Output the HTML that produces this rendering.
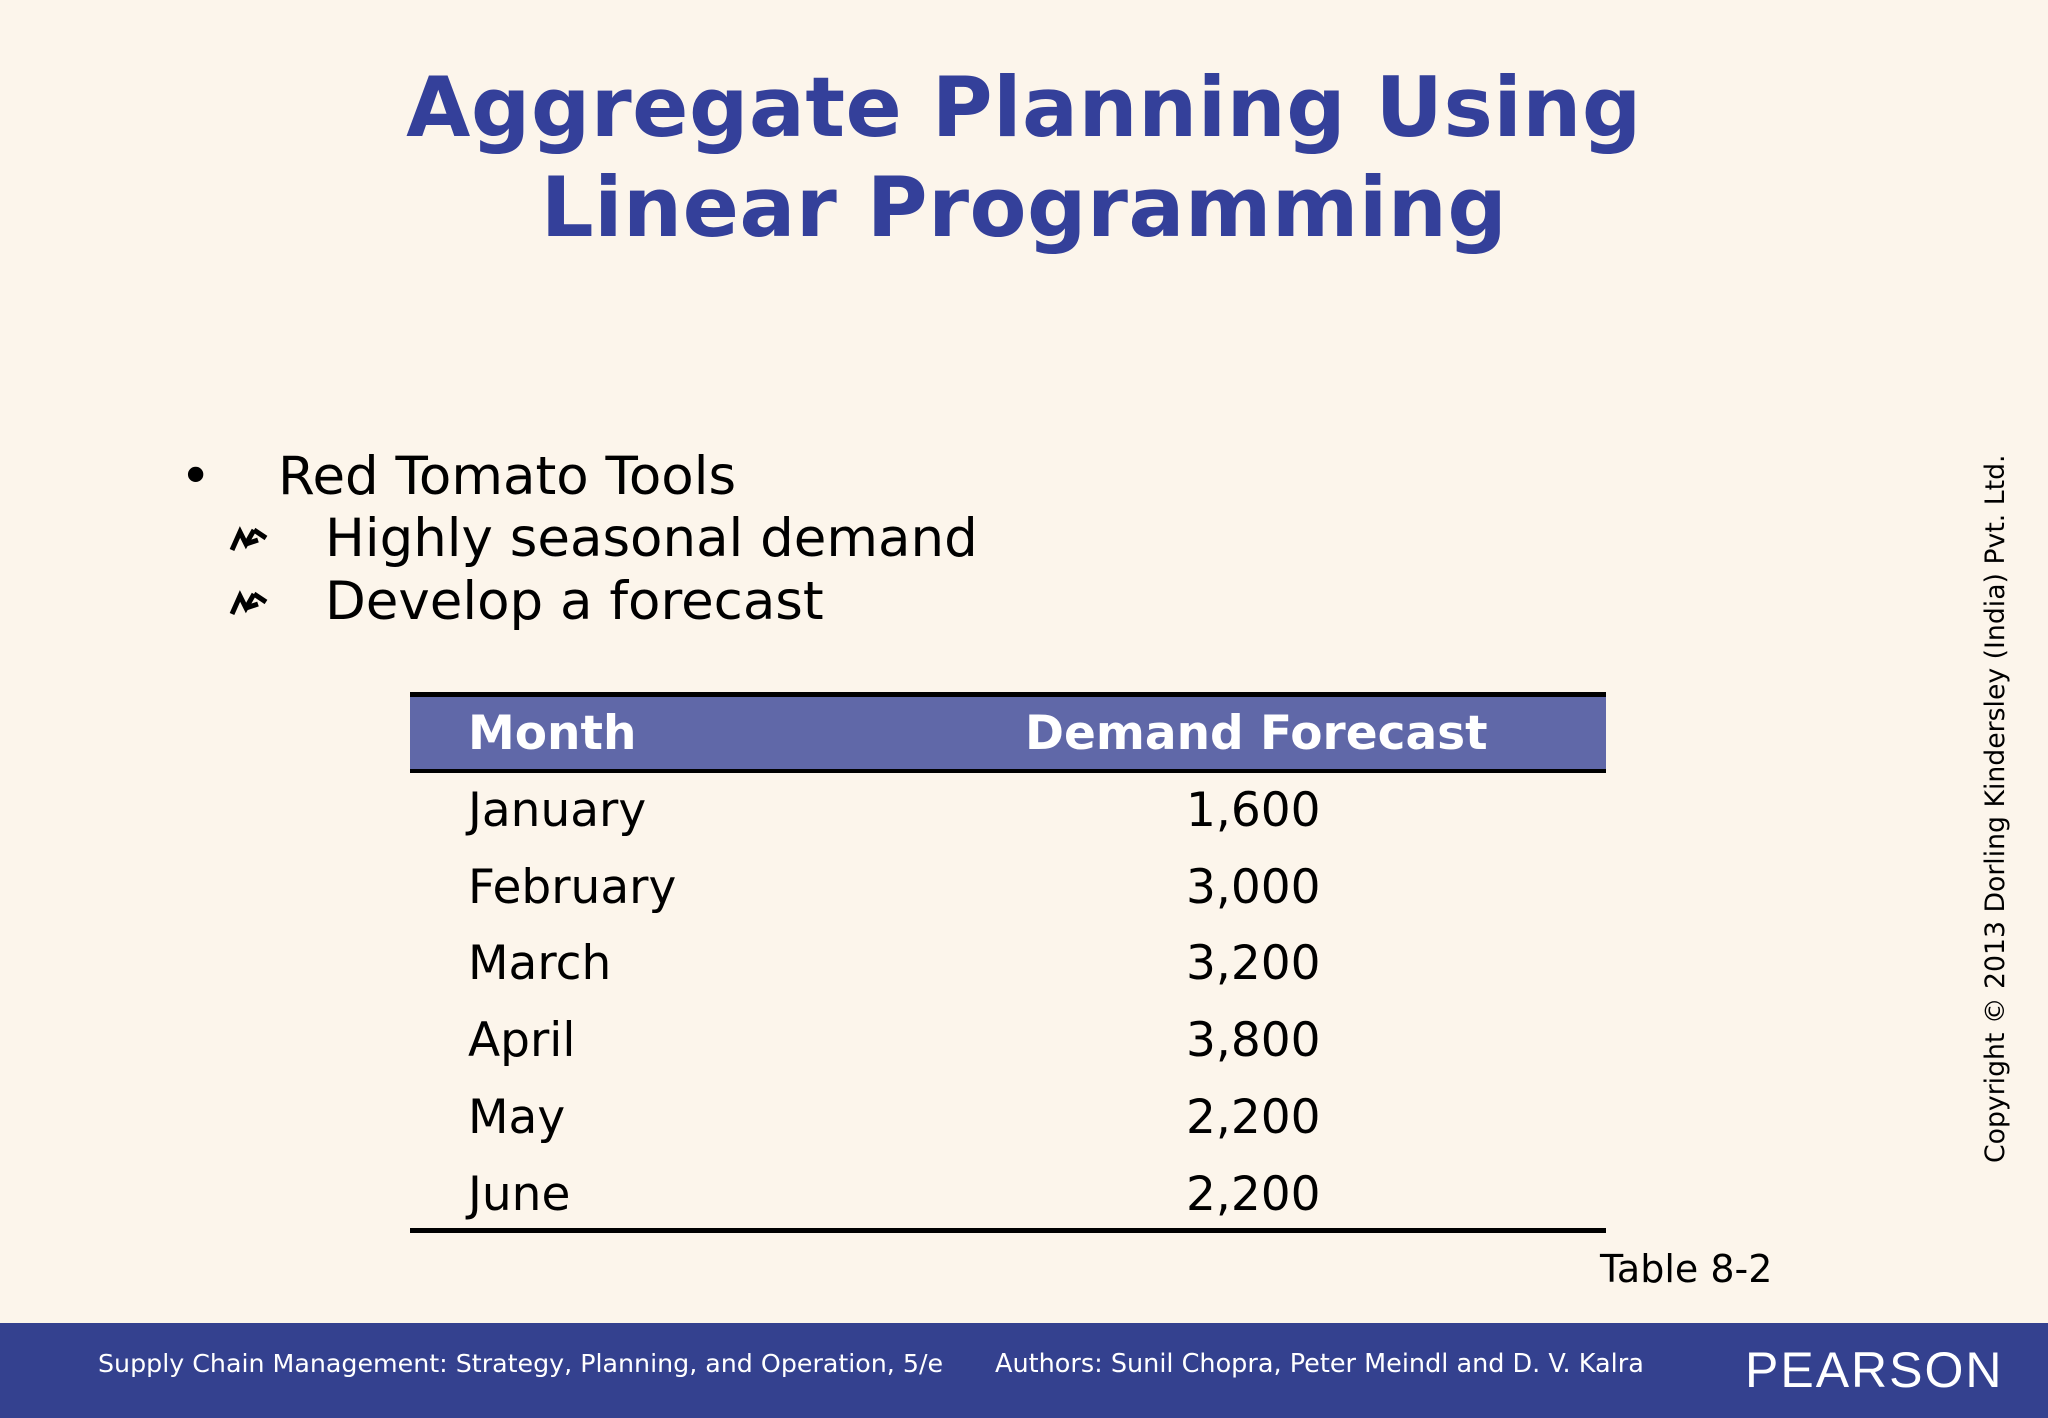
<!DOCTYPE html>
<html><head><meta charset="utf-8">
<style>
html,body{margin:0;padding:0}
body{width:2048px;height:1418px;background:#fcf5eb;position:relative;overflow:hidden;font-family:"DejaVu Sans","Liberation Sans",sans-serif;color:#000}
.a{position:absolute;white-space:nowrap}
.title{left:0;width:2048px;text-align:center;color:#34409a;font-weight:bold;font-size:83px;line-height:100px;letter-spacing:0.5px}
.b{font-size:53px;line-height:60px}
.row{font-size:47px;line-height:60px}
</style></head><body>
<div class="a title" style="top:58px">Aggregate Planning Using</div>
<div class="a title" style="top:158px">Linear Programming</div>

<div class="a b" style="left:180px;top:447px">•</div>
<div class="a b" style="left:278px;top:447px">Red Tomato Tools</div>
<svg class="a" style="left:228px;top:524px" width="44" height="30"><path d="M4 26 L12 8 L18 20 L26 6 M26 6 L38 14 M18 20 L30 16" stroke="#000" stroke-width="5" fill="none"/></svg>
<div class="a b" style="left:325px;top:509px">Highly seasonal demand</div>
<svg class="a" style="left:228px;top:588px" width="44" height="30"><path d="M4 26 L12 8 L18 20 L26 6 M26 6 L38 14 M18 20 L30 16" stroke="#000" stroke-width="5" fill="none"/></svg>
<div class="a b" style="left:325px;top:572px">Develop a forecast</div>

<div class="a" style="left:410px;top:692px;width:1196px;height:5px;background:#000"></div>
<div class="a" style="left:410px;top:697px;width:1196px;height:72px;background:#6068a8"></div>
<div class="a" style="left:410px;top:769px;width:1196px;height:4px;background:#000"></div>
<div class="a row" style="left:468px;top:704px;color:#fff;font-weight:bold;font-size:47px">Month</div>
<div class="a row" style="left:1025px;top:704px;color:#fff;font-weight:bold;font-size:47px">Demand Forecast</div>
<div id="rows"></div>
<div class="a" style="left:410px;top:1228px;width:1196px;height:5px;background:#000"></div>
<div class="a" style="left:1600px;top:1246px;font-size:38px;line-height:46px">Table 8-2</div>

<div class="a" style="top:1163px;left:1980px;transform:rotate(-90deg);transform-origin:0 0;font-size:26.7px;line-height:32px;width:708px;text-align:center">Copyright © 2013 Dorling Kindersley (India) Pvt. Ltd.</div>

<div class="a" style="left:0;top:1323px;width:2048px;height:95px;background:#34418f"></div>
<div class="a" style="left:98px;top:1348px;color:#fff;font-size:25.3px;line-height:32px">Supply Chain Management: Strategy, Planning, and Operation, 5/e</div>
<div class="a" style="left:995px;top:1348px;color:#fff;font-size:25.5px;line-height:32px">Authors: Sunil Chopra, Peter Meindl and D. V. Kalra</div>
<div class="a" style="left:1745px;top:1340px;color:#fff;font-size:50px;line-height:60px;letter-spacing:2px;font-family:'Liberation Sans',sans-serif">PEARSON</div>

<script>
const months = ["January","February","March","April","May","June"];
const demand = [1600,3000,3200,3800,2200,2200];
const c = document.getElementById('rows');
months.forEach((m,i)=>{
  const top = 781 + i*76.7;
  const a = document.createElement('div');
  a.className='a row'; a.style.left='468px'; a.style.top=top+'px'; a.textContent=m;
  
  
  c.appendChild(a);
  const b = document.createElement('div');
  b.className='a row'; b.style.left='1186px'; b.style.top=top+'px'; b.textContent=demand[i].toLocaleString('en-US');
  
  
  c.appendChild(b);
});
</script>
</body></html>
